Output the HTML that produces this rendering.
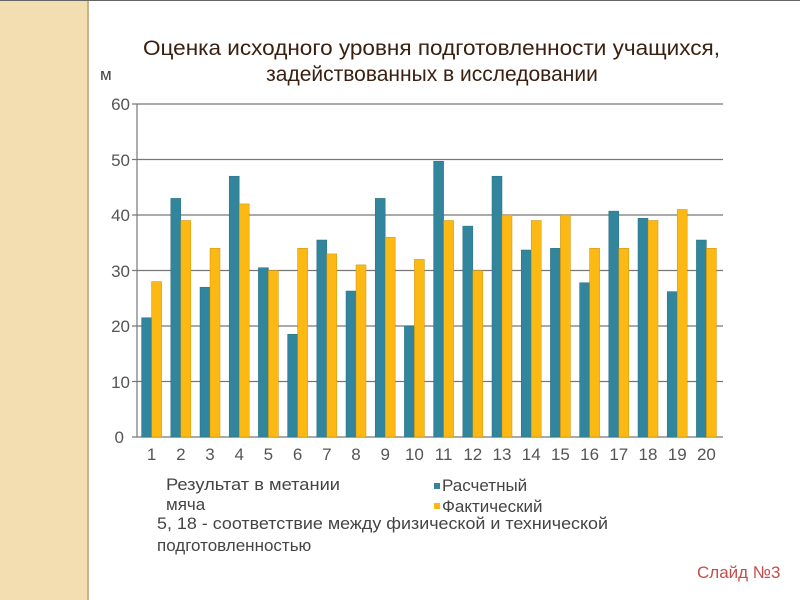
<!DOCTYPE html>
<html><head><meta charset="utf-8"><style>
body{margin:0;width:800px;height:600px;background:#fff;overflow:hidden;position:relative;font-family:"Liberation Sans",sans-serif}
.strip{position:absolute;left:0;top:0;width:87px;height:600px;background:#f3deb2;border-right:2px solid #c8b48a}
.top{position:absolute;left:0;top:0;width:800px;height:1px;background:#666}
</style></head><body>
<div class="strip"></div><div class="top"></div>
<svg width="800" height="600" style="position:absolute;left:0;top:0" font-family="Liberation Sans, sans-serif">
<text x="143" y="55" font-size="21" fill="#3a2010" textLength="577" lengthAdjust="spacingAndGlyphs">Оценка  исходного уровня подготовленности учащихся,</text>
<text x="432" y="81" font-size="21" fill="#3a2010" text-anchor="middle">задействованных в исследовании</text>
<text x="100" y="80" font-size="17" fill="#444">м</text>
<g stroke="#777" stroke-width="1.2">
<line x1="132" y1="104" x2="723" y2="104"/><line x1="132" y1="159.5" x2="723" y2="159.5"/><line x1="132" y1="215" x2="723" y2="215"/><line x1="132" y1="270.5" x2="723" y2="270.5"/><line x1="132" y1="326" x2="723" y2="326"/><line x1="132" y1="381.5" x2="723" y2="381.5"/><line x1="132" y1="437" x2="723" y2="437"/>
<line x1="137" y1="104" x2="137" y2="437"/>
</g>
<g font-size="17" fill="#555" text-anchor="end">
<text x="130" y="110">60</text><text x="130" y="166">50</text><text x="130" y="221">40</text><text x="130" y="277">30</text><text x="130" y="332">20</text><text x="130" y="388">10</text><text x="124" y="443">0</text>
</g>
<g fill="#31859c" stroke="#2a6e80" stroke-width="0.5">
<rect x="141.6" y="317.7" width="10" height="119.3"/><rect x="170.8" y="198.4" width="10" height="238.6"/><rect x="200" y="287.2" width="10" height="149.8"/><rect x="229.2" y="176.2" width="10" height="260.8"/><rect x="258.4" y="267.7" width="10" height="169.3"/><rect x="287.6" y="334.3" width="10" height="102.7"/><rect x="316.8" y="240" width="10" height="197"/><rect x="346" y="291" width="10" height="146"/><rect x="375.2" y="198.4" width="10" height="238.6"/><rect x="404.4" y="326" width="10" height="111"/><rect x="433.6" y="161.2" width="10" height="275.8"/><rect x="462.8" y="226.1" width="10" height="210.9"/><rect x="492" y="176.2" width="10" height="260.8"/><rect x="521.2" y="250" width="10" height="187"/><rect x="550.4" y="248.3" width="10" height="188.7"/><rect x="579.6" y="282.7" width="10" height="154.3"/><rect x="608.8" y="211.1" width="10" height="225.9"/><rect x="638" y="218.3" width="10" height="218.7"/><rect x="667.2" y="291.6" width="10" height="145.4"/><rect x="696.4" y="240" width="10" height="197"/>
</g>
<g fill="#fdb913" stroke="#c89010" stroke-width="0.5">
<rect x="151.6" y="281.6" width="10" height="155.4"/><rect x="180.8" y="220.5" width="10" height="216.5"/><rect x="210" y="248.3" width="10" height="188.7"/><rect x="239.2" y="203.9" width="10" height="233.1"/><rect x="268.4" y="270.5" width="10" height="166.5"/><rect x="297.6" y="248.3" width="10" height="188.7"/><rect x="326.8" y="253.9" width="10" height="183.1"/><rect x="356" y="264.9" width="10" height="172.1"/><rect x="385.2" y="237.2" width="10" height="199.8"/><rect x="414.4" y="259.4" width="10" height="177.6"/><rect x="443.6" y="220.5" width="10" height="216.5"/><rect x="472.8" y="270.5" width="10" height="166.5"/><rect x="502" y="215" width="10" height="222"/><rect x="531.2" y="220.5" width="10" height="216.5"/><rect x="560.4" y="215" width="10" height="222"/><rect x="589.6" y="248.3" width="10" height="188.7"/><rect x="618.8" y="248.3" width="10" height="188.7"/><rect x="648" y="220.5" width="10" height="216.5"/><rect x="677.2" y="209.5" width="10" height="227.5"/><rect x="706.4" y="248.3" width="10" height="188.7"/>
</g>
<g font-size="17" fill="#555" text-anchor="middle">
<text x="151.6" y="460">1</text><text x="180.8" y="460">2</text><text x="210" y="460">3</text><text x="239.2" y="460">4</text><text x="268.4" y="460">5</text><text x="297.6" y="460">6</text><text x="326.8" y="460">7</text><text x="356" y="460">8</text><text x="385.2" y="460">9</text><text x="414.4" y="460">10</text><text x="443.6" y="460">11</text><text x="472.8" y="460">12</text><text x="502" y="460">13</text><text x="531.2" y="460">14</text><text x="560.4" y="460">15</text><text x="589.6" y="460">16</text><text x="618.8" y="460">17</text><text x="648" y="460">18</text><text x="677.2" y="460">19</text><text x="706.4" y="460">20</text>
</g>
<g font-size="17" fill="#444">
<text x="166" y="490" textLength="174" lengthAdjust="spacingAndGlyphs">Результат в метании</text>
<text x="166" y="510">мяча</text>
<rect x="434" y="483" width="6" height="6" fill="#31859c"/><text x="442" y="491">Расчетный</text>
<rect x="434" y="503" width="6" height="6" fill="#fdb913"/><text x="442" y="512">Фактический</text>
<text x="157" y="529" textLength="451" lengthAdjust="spacingAndGlyphs">5, 18 - соответствие между физической и технической</text>
<text x="157" y="551">подготовленностью</text>
</g>
<text x="697" y="578" font-size="17" fill="#c0504d">Слайд №3</text>
</svg>
</body></html>
